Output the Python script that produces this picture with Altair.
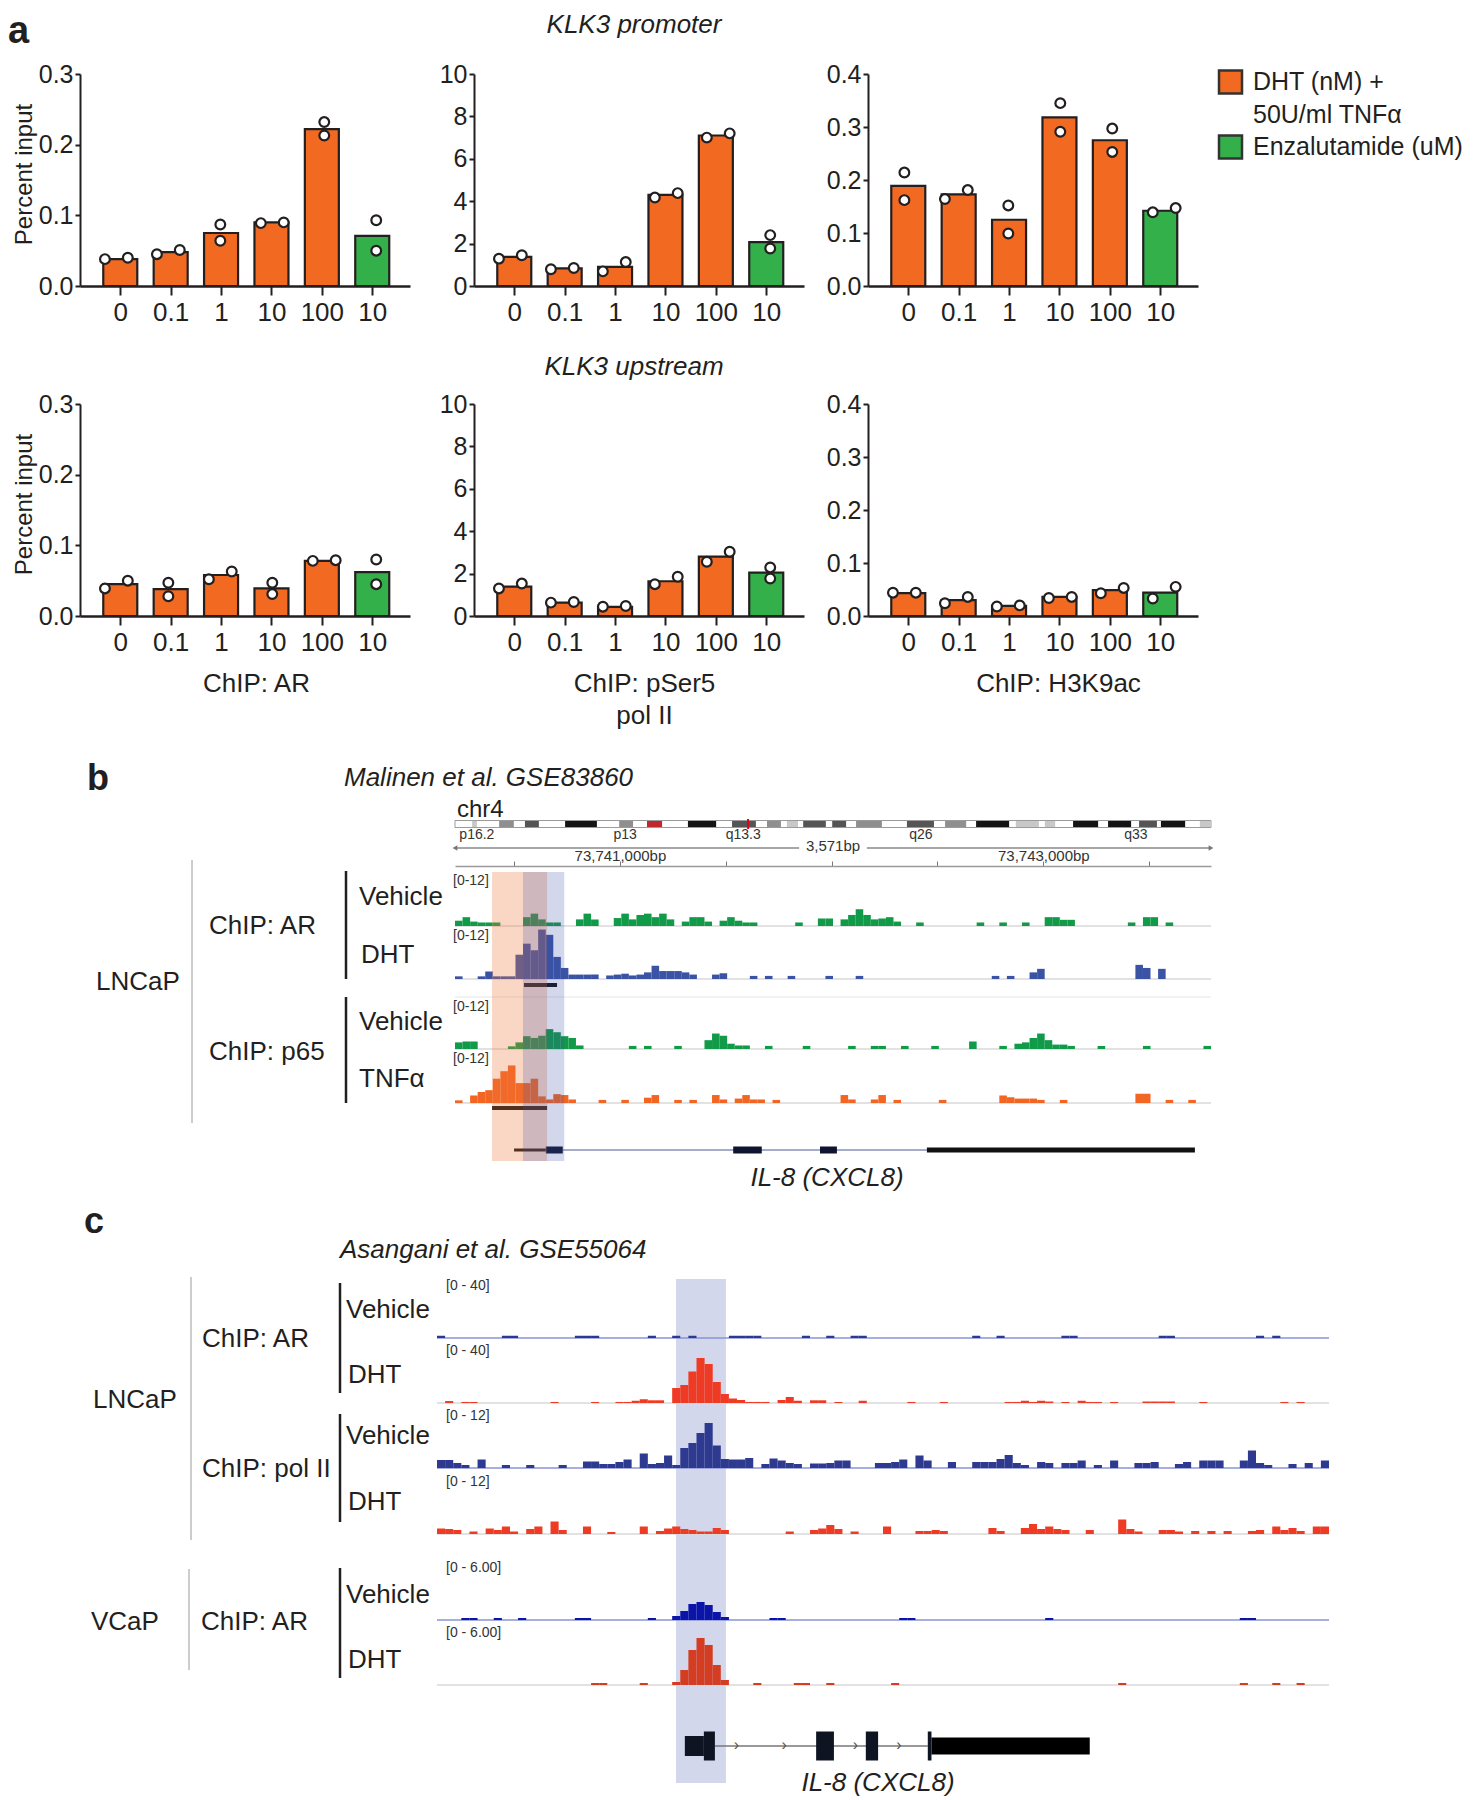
import json
import pandas as pd
import altair as alt

FONT = "Liberation Sans"
INK = "#231f20"
ORANGE = "#F26A21"
GREEN = "#33B04A"
FS = 26

# ---------------------------------------------------------------- panel a data
dose_labels = ["0", "0.1", "1", "10", "100", "10"]
treat_of_bar = ["DHT", "DHT", "DHT", "DHT", "DHT", "Enz"]
legend_lines = ["DHT (nM) +", "50U/ml TNFα", "Enzalutamide (uM)"]

# KLK3 promoter
ar_prom_bar = [0.038, 0.048, 0.075, 0.090, 0.222, 0.071]
ar_prom_rep1 = [0.038, 0.045, 0.087, 0.089, 0.232, 0.093]
ar_prom_rep2 = [0.040, 0.051, 0.064, 0.090, 0.213, 0.050]
ar_prom_spread = [1, 1, 0, 1, 0, 0]

pser5_prom_bar = [1.37, 0.83, 0.90, 4.30, 7.10, 2.07]
pser5_prom_rep1 = [1.29, 0.79, 0.69, 4.17, 7.00, 2.40]
pser5_prom_rep2 = [1.45, 0.85, 1.13, 4.38, 7.20, 1.77]
pser5_prom_spread = [1, 1, 1, 1, 1, 0]

h3_prom_bar = [0.189, 0.173, 0.125, 0.318, 0.275, 0.142]
h3_prom_rep1 = [0.214, 0.164, 0.152, 0.345, 0.297, 0.139]
h3_prom_rep2 = [0.162, 0.181, 0.099, 0.291, 0.253, 0.147]
h3_prom_spread = [0, 1, 0, 0, 0, 1]

# KLK3 upstream
ar_up_bar = [0.045, 0.038, 0.058, 0.039, 0.078, 0.062]
ar_up_rep1 = [0.039, 0.047, 0.052, 0.047, 0.078, 0.080]
ar_up_rep2 = [0.050, 0.028, 0.063, 0.031, 0.079, 0.045]
ar_up_spread = [1, 0, 1, 0, 1, 0]

pser5_up_bar = [1.39, 0.63, 0.43, 1.64, 2.80, 2.05]
pser5_up_rep1 = [1.30, 0.63, 0.44, 1.50, 2.56, 2.29]
pser5_up_rep2 = [1.53, 0.66, 0.47, 1.85, 3.03, 1.77]
pser5_up_spread = [1, 1, 1, 1, 1, 0]

h3_up_bar = [0.043, 0.030, 0.019, 0.036, 0.049, 0.044]
h3_up_rep1 = [0.044, 0.024, 0.018, 0.034, 0.043, 0.033]
h3_up_rep2 = [0.044, 0.036, 0.020, 0.036, 0.053, 0.055]
h3_up_spread = [1, 1, 1, 1, 1, 1]

# ---------------------------------------------------------------- panel b data (hg38 chr4)
b_region = [73740221, 73743792]
b_ruler_labeled = [73741000, 73743000]
b_ar_vehicle = [
    1.2, 2.0, 1.0, 0.8, 0.8, 0.8, 0, 0, 0, 2.0,
    2.8, 1.5, 0.8, 0.8, 0, 0, 1.5, 2.8, 1.5, 0,
    0, 1.8, 2.8, 1.5, 2.5, 2.8, 2.0, 2.8, 1.5, 0,
    1.0, 2.0, 2.0, 1.0, 0, 1.2, 2.0, 1.2, 0.8, 0.8,
    0, 0, 0, 0, 0, 0.8, 0, 0, 1.7, 1.7,
    0, 1.5, 2.5, 3.8, 2.5, 1.5, 1.7, 2.0, 1.0, 0,
    0, 0.8, 0, 0, 0, 0, 0, 0, 0, 0.8,
    0, 0, 0.8, 0, 0, 0.8, 0, 0, 2.0, 2.0,
    1.4, 1.4, 0, 0, 0, 0, 0, 0, 0, 0.8,
    0, 2.0, 2.0, 0, 0.8, 0, 0, 0, 0, 0]
b_ar_dht = [
    0.6, 0, 0, 0.6, 1.7, 0.6, 0.6, 0.6, 5.5, 8.0,
    6.5, 11.2, 10.0, 5.0, 2.5, 1.0, 1.0, 1.0, 1.0, 0,
    0.8, 1.0, 1.2, 0.8, 1.0, 1.5, 3.0, 1.8, 1.8, 1.8,
    1.5, 1.0, 0, 0, 1.0, 1.3, 0, 0, 0, 0.7,
    0, 0.7, 0, 0, 0.7, 0, 0, 0, 0, 0.7,
    0, 0, 0, 0.7, 0, 0, 0, 0, 0, 0,
    0, 0, 0, 0, 0, 0, 0, 0, 0, 0,
    0, 0.7, 0, 0.7, 0, 0, 1.5, 2.3, 0, 0,
    0, 0, 0, 0, 0, 0, 0, 0, 0, 0,
    3.2, 2.5, 0, 2.3, 0, 0, 0, 0, 0, 0]
b_p65_vehicle = [
    1.5, 1.7, 1.7, 0, 0, 0, 0, 0.6, 1.5, 2.9,
    2.5, 3.0, 4.5, 3.8, 2.9, 2.5, 0.8, 0, 0, 0,
    0, 0, 0, 0.7, 0, 0.7, 0, 0, 0, 0.7,
    0, 0, 0, 2.0, 3.5, 3.0, 1.2, 0.8, 0.8, 0,
    0, 0.7, 0, 0, 0, 0, 0.7, 0, 0, 0,
    0, 0, 0.7, 0, 0, 0.7, 0.7, 0, 0, 0.7,
    0, 0, 0, 0.7, 0, 0, 0, 0, 1.7, 0,
    0, 0, 0.7, 0, 1.2, 1.5, 2.5, 3.5, 2.0, 1.0,
    1.0, 0.7, 0, 0, 0, 0.7, 0, 0, 0, 0,
    0, 0.7, 0, 0, 0, 0, 0, 0, 0, 0.7]
b_p65_tnf = [
    0.6, 0, 1.7, 2.5, 2.9, 5.5, 7.2, 8.5, 4.5, 4.5,
    5.5, 1.5, 0.8, 2.0, 1.8, 0.8, 0, 0, 0, 0.7,
    0, 0, 0.7, 0, 0, 1.2, 1.8, 0, 0, 0.7,
    0, 0.7, 0, 0, 1.8, 0.8, 0, 1.0, 1.8, 0.8,
    0.8, 0, 0.7, 0, 0, 0, 0, 0, 0, 0,
    0, 1.8, 0.8, 0, 0, 0.8, 1.8, 0, 0.7, 0,
    0, 0, 0, 0, 0.7, 0, 0, 0, 0, 0,
    0, 0, 1.7, 1.3, 1.0, 1.0, 1.0, 0.7, 0, 0,
    0.7, 0, 0, 0, 0, 0, 0, 0, 0, 0,
    2.1, 2.1, 0, 0, 0.7, 0, 0, 0.7, 0, 0]
b_peak_ar = [73740547, 73740703]
b_peak_p65 = [73740396, 73740656]
b_hl_p65 = [73740396, 73740656]
b_hl_ar = [73740542, 73740737]
b_gene_utr5 = [[73740500, 73740650]]
b_gene_cds = [[73740650, 73740730], [73741535, 73741670], [73741945, 73742025]]
b_gene_utr3 = [[73742450, 73743716]]
b_gene_intron = [73740730, 73742450]

# chr4 ideogram (Mb)
chr4_len = 190.2
band_start = [4.3, 11.1, 17.6, 27.7, 41.3, 48.3, 58.6, 69.7, 78.5, 83.5, 87.6, 94.9, 100.9,
              113.7, 123.3, 131.1, 141.1, 148.4, 155.5, 164.3, 172.1, 177.6, 187.4]
band_end = [5.5, 14.8, 21.1, 35.7, 44.8, 52.1, 65.7, 75.7, 82.0, 86.3, 93.3, 98.4, 107.4,
            120.5, 128.6, 139.4, 146.9, 151.0, 161.8, 170.1, 176.6, 183.7, 190.2]
band_stain = ["gpos25", "gpos50", "gpos75", "gpos100", "gpos50", "acen", "gpos100", "gpos75",
              "gpos50", "gpos25", "gpos75", "gpos75", "gpos50", "gpos75", "gpos50", "gpos100",
              "gpos25", "gpos25", "gpos100", "gpos100", "gpos75", "gpos100", "gpos25"]
cyto_names = ["p16.2", "p13", "q13.3", "q26", "q33"]
cyto_pos = [5.5, 42.8, 72.5, 117.2, 171.3]

# ---------------------------------------------------------------- panel c data (hg19 chr4)
c_region = [74604200, 74611470]
c_ar_veh_lncap = [
    1.5, 0, 0, 0, 0, 0, 0, 0, 1.5, 1.5,
    0, 0, 0, 0, 0, 0, 0, 1.5, 1.5, 1.5,
    0, 0, 0, 0, 0, 0, 1.5, 0, 0, 1.5,
    0, 1.5, 0, 0, 0, 0, 1.5, 1.5, 1.5, 1.5,
    0, 0, 0, 0, 0, 1.5, 0, 0, 1.5, 0,
    0, 1.5, 1.5, 0, 0, 0, 0, 0, 0, 0,
    0, 0, 0, 0, 0, 0, 1.5, 0, 0, 1.5,
    0, 0, 0, 0, 0, 0, 0, 1.5, 1.5, 0,
    0, 0, 0, 0, 0, 0, 0, 0, 0, 1.5,
    1.5, 0, 0, 0, 0, 0, 0, 0, 0, 0,
    0, 1.5, 0, 1.5, 0, 0, 0, 0, 0, 0]
c_ar_dht_lncap = [
    0, 1.3, 0, 0.7, 0.7, 0, 0, 0, 0, 0,
    0, 0, 0, 0, 0.7, 0, 0, 0, 0, 0.7,
    0, 0, 0.7, 0.7, 1.5, 2.5, 1.8, 1.8, 0, 10,
    12, 21, 30, 26, 14, 6, 3, 2, 0.7, 0.7,
    0.7, 0, 2, 4, 1.5, 0, 1.8, 1.8, 0, 0.7,
    0, 0, 1.5, 0, 0, 0, 0, 0, 0.7, 0,
    0, 0, 0.7, 0, 0, 0, 0, 0, 0, 0,
    0.7, 0.7, 1.5, 0.7, 1.5, 1.0, 0, 0.7, 0, 1.5,
    0.7, 0.7, 0, 0.7, 0, 0, 0, 1.0, 1.0, 1.0,
    1.0, 0, 0, 0, 0.7, 0, 0, 0, 0, 0,
    0, 0, 0, 0, 0.7, 0, 0.7, 0, 0, 0]
c_pol2_veh_lncap = [
    1.6, 1.6, 1.0, 0.6, 0, 1.7, 0, 0, 0.6, 0,
    0, 0.6, 0, 0, 0, 0.6, 0, 0, 1.3, 1.3,
    0.8, 0.8, 1.2, 1.7, 0, 2.9, 0.8, 1.0, 2.5, 0.6,
    4.0, 5.0, 7.0, 9.0, 4.5, 1.8, 1.7, 1.7, 2.0, 0,
    0.8, 1.9, 1.5, 1.0, 0.8, 0, 0.9, 0.9, 1.0, 1.5,
    1.5, 0, 0, 0, 1.0, 1.0, 1.2, 1.7, 0, 2.5,
    1.5, 0, 0, 1.2, 0, 0, 1.2, 1.2, 1.2, 1.8,
    2.6, 1.0, 0.6, 0, 1.2, 1.0, 0, 1.0, 1.0, 1.5,
    0, 0.6, 0, 1.5, 0, 0, 1.0, 1.0, 1.2, 0,
    0, 0.8, 1.2, 0, 1.5, 1.5, 1.5, 0, 0, 1.5,
    3.5, 1.0, 0.6, 0, 0, 0.8, 0, 1.0, 0, 1.5]
c_pol2_dht_lncap = [
    1.1, 1.0, 0.8, 0, 0.5, 0, 1.1, 0.8, 1.5, 0.5,
    0, 1.0, 1.5, 0, 2.5, 0.8, 0, 0, 1.5, 0,
    0, 0.4, 0, 0, 0, 1.5, 0, 0.6, 1.1, 1.5,
    1.0, 0.8, 0.5, 0.5, 1.2, 0.8, 0, 0, 0, 0,
    0, 0, 0, 0.5, 0, 0, 0.8, 1.1, 1.8, 1.0,
    0, 0.5, 0, 0, 0, 1.5, 0, 0, 0, 0.6,
    0.6, 0.8, 0.6, 0, 0, 0, 0, 0, 1.2, 0.6,
    0, 0, 1.2, 2.0, 1.0, 1.5, 1.0, 0.8, 0, 0,
    0.8, 0, 0, 0, 2.9, 1.0, 0.5, 0, 0, 0.8,
    0.8, 0.5, 0, 0.6, 0, 0.6, 0, 0.6, 0, 0,
    0.6, 0.8, 0, 1.5, 0.8, 1.2, 0.6, 0, 1.5, 1.5]
c_ar_veh_vcap = [
    0, 0, 0, 0.2, 0.2, 0, 0, 0.2, 0, 0,
    0.2, 0, 0, 0, 0, 0, 0, 0.2, 0.2, 0,
    0, 0, 0, 0, 0, 0, 0.2, 0, 0, 0.4,
    0.9, 1.6, 1.8, 1.5, 0.8, 0.3, 0, 0, 0, 0,
    0, 0.2, 0.2, 0, 0, 0, 0, 0, 0, 0,
    0, 0, 0, 0, 0, 0, 0, 0.2, 0.2, 0,
    0, 0, 0, 0, 0, 0, 0, 0, 0, 0,
    0, 0, 0, 0, 0, 0.2, 0, 0, 0, 0,
    0, 0, 0, 0, 0, 0, 0, 0, 0, 0,
    0, 0, 0, 0, 0, 0, 0, 0, 0, 0.2,
    0.2, 0, 0, 0, 0, 0, 0, 0, 0, 0]
c_ar_dht_vcap = [
    0, 0, 0, 0, 0, 0, 0, 0, 0, 0,
    0, 0, 0, 0, 0, 0, 0, 0, 0, 0.2,
    0.2, 0, 0, 0, 0, 0.2, 0, 0, 0, 0.3,
    1.5, 3.5, 4.7, 4.0, 2.0, 0.5, 0, 0, 0, 0.2,
    0, 0, 0, 0, 0.2, 0.2, 0, 0, 0.2, 0,
    0, 0, 0, 0, 0, 0, 0.2, 0, 0, 0,
    0, 0, 0, 0, 0, 0, 0, 0, 0, 0,
    0, 0, 0, 0, 0, 0, 0, 0, 0, 0,
    0, 0, 0, 0, 0.2, 0, 0, 0, 0, 0,
    0, 0, 0, 0, 0, 0, 0, 0, 0, 0.2,
    0, 0, 0, 0.2, 0, 0, 0.2, 0, 0, 0]
c_hl = [74606148, 74606555]
c_gene_cds = [[74606375, 74606465], [74607290, 74607435], [74607695, 74607795], [74608200, 74608230]]
c_gene_utr5 = [[74606220, 74606375]]
c_gene_utr3 = [[74608230, 74609520]]
c_gene_intron = [74606465, 74608200]
c_gene_strand_marks = [74606640, 74607030, 74607610, 74607965]

# ---------------------------------------------------------------- helpers
ONE = alt.Data(values=[{}])


def text_mark(txt, x, y, size=FS, align="left", baseline="middle", style="normal",
              weight="normal", color=INK):
    return alt.Chart(ONE).mark_text(
        text=txt, fontSize=size, align=align, baseline=baseline, font=FONT,
        fontStyle=style, fontWeight=weight, color=color
    ).encode(x=alt.value(x), y=alt.value(y))


def vline(x, y1, y2, color=INK, w=2.5):
    return alt.Chart(ONE).mark_rule(color=color, strokeWidth=w).encode(
        x=alt.value(x), y=alt.value(y1), y2=alt.value(y2))


def hrule(x1, x2, y, xs, ax, color, w):
    return alt.Chart(ONE).mark_rule(color=color, strokeWidth=w).encode(
        x=alt.XDatum(x1, scale=xs, axis=ax), x2=alt.X2Datum(x2), y=alt.value(y))


def bins_df(vals, start, width):
    rows = [{"s": start + i * width, "e": start + (i + 1) * width, "v": v}
            for i, v in enumerate(vals) if v > 0]
    return pd.DataFrame(rows)


def track(vals, region, xs, ax, color, base, h, ymax):
    width = (region[1] - region[0]) / len(vals)
    ys = alt.Scale(domain=[0, ymax], range=[base, base - h], nice=False, zero=True)
    return alt.Chart(bins_df(vals, region[0], width)).mark_rect(color=color).encode(
        x=alt.X("s:Q", scale=xs, axis=ax), x2="e:Q",
        y=alt.Y("v:Q", scale=ys, axis=None), y2=alt.datum(0))


def segs(seglist, xs, ax, yc, h, color):
    df = pd.DataFrame(seglist, columns=["s", "e"])
    return alt.Chart(df).mark_rect(color=color).encode(
        x=alt.X("s:Q", scale=xs, axis=ax), x2="e:Q",
        y=alt.value(yc - h / 2), y2=alt.value(yc + h / 2))


# ---------------------------------------------------------------- panel a charts
PW, PH = 330, 212
PX0 = [0, 394, 788]
XDOM = [-0.7, 5.65]
SPREAD = 0.22
color_scale = alt.Scale(domain=["DHT", "Enz"], range=[ORANGE, GREEN])


def bar_layers(x0, bars, rep1, rep2, spread, ymax, step, fmt, ytitle=False, xtitle=None,
               xtitle_x=165):
    bar_df = pd.DataFrame({"pos": list(range(len(bars))), "value": bars, "treat": treat_of_bar})
    pts = []
    for i, (a, b) in enumerate(zip(rep1, rep2)):
        off = SPREAD if spread[i] else 0.0
        pts.append({"pos": i - off, "value": a})
        pts.append({"pos": i + off, "value": b})
    pt_df = pd.DataFrame(pts)
    n = int(round(ymax / step))
    yvals = [round(k * step, 4) for k in range(n + 1)]
    xs = alt.Scale(domain=XDOM, range=[x0, x0 + PW], nice=False, zero=False)
    ys = alt.Scale(domain=[0, ymax], range=[PH, 0], nice=False)
    common = dict(labelFont=FONT, labelFontSize=FS, labelColor=INK, domainColor=INK,
                  tickColor=INK, grid=False, titleFont=FONT, titleFontSize=FS,
                  titleFontWeight="normal", titleColor=INK, labelFlush=False)
    ykw = dict(common, orient="left", offset=-x0, values=yvals, format=fmt, tickSize=5,
               tickWidth=2, domainWidth=2, labelPadding=2, labelFontSize=25)
    if ytitle:
        ykw.update(title="Percent input", titleFontSize=24, titleX=-44, titleY=100)
    else:
        ykw["title"] = None
    xkw = dict(common, orient="bottom", values=list(range(6)),
               labelExpr=json.dumps(dose_labels) + "[datum.value]",
               tickSize=9, tickWidth=2, domainWidth=2.5, labelPadding=4, labelOverlap=False)
    if xtitle:
        xkw.update(title=xtitle, titleX=x0 + xtitle_x, titleY=54, titleBaseline="top",
                   titleLineHeight=32)
    else:
        xkw["title"] = None
    bars_ch = alt.Chart(bar_df).mark_bar(size=34, stroke=INK, strokeWidth=2.2,
                                         orient="vertical").encode(
        x=alt.X("pos:Q", scale=xs, axis=alt.Axis(**xkw)),
        y=alt.Y("value:Q", scale=ys, axis=alt.Axis(**ykw)),
        color=alt.Color("treat:N", scale=color_scale, legend=None))
    pts_ch = alt.Chart(pt_df).mark_point(shape="circle", filled=True, fill="white",
                                         stroke=INK, strokeWidth=2.2, size=95,
                                         opacity=1).encode(
        x=alt.X("pos:Q", scale=xs, axis=None),
        y=alt.Y("value:Q", scale=ys, axis=None))
    return [bars_ch, pts_ch]


rowA1_layers = (
    bar_layers(PX0[0], ar_prom_bar, ar_prom_rep1, ar_prom_rep2, ar_prom_spread, 0.3, 0.1,
               ".1f", ytitle=True)
    + bar_layers(PX0[1], pser5_prom_bar, pser5_prom_rep1, pser5_prom_rep2, pser5_prom_spread,
                 10, 2, "d")
    + bar_layers(PX0[2], h3_prom_bar, h3_prom_rep1, h3_prom_rep2, h3_prom_spread, 0.4, 0.1,
                 ".1f")
)
LEG_X = 1138
leg_y = alt.Scale(domain=[0, 2], range=[8, 73])
rowA1_layers += [
    alt.Chart(pd.DataFrame({"row": [0, 2], "treat": ["DHT", "Enz"]})).mark_square(
        size=529, stroke="#333333", strokeWidth=2.5, opacity=1).encode(
        x=alt.value(LEG_X + 12.5), y=alt.Y("row:Q", scale=leg_y, axis=None),
        color=alt.Color("treat:N", scale=color_scale, legend=None)),
    alt.Chart(pd.DataFrame({"row": [0, 1, 2], "label": legend_lines})).mark_text(
        align="left", baseline="middle", fontSize=25, font=FONT, color=INK).encode(
        x=alt.value(LEG_X + 35), y=alt.Y("row:Q", scale=leg_y, axis=None), text="label:N"),
    # invisible anchor that fixes the top edge of the drawing
    alt.Chart(ONE).mark_rule(opacity=0).encode(
        x=alt.value(600), y=alt.value(-66), y2=alt.value(-62)),
    text_mark("a", -72, -31, size=38, weight="bold", baseline="alphabetic"),
    text_mark("KLK3 promoter", PX0[1] + 160, -49, align="center", style="italic"),
]
rowA1 = alt.layer(*rowA1_layers).resolve_scale(x="independent", y="independent").properties(
    width=PX0[2] + PW, height=PH)

rowA2_layers = (
    bar_layers(PX0[0], ar_up_bar, ar_up_rep1, ar_up_rep2, ar_up_spread, 0.3, 0.1, ".1f",
               ytitle=True, xtitle="ChIP: AR", xtitle_x=176)
    + bar_layers(PX0[1], pser5_up_bar, pser5_up_rep1, pser5_up_rep2, pser5_up_spread, 10, 2,
                 "d", xtitle=["ChIP: pSer5", "pol II"], xtitle_x=170)
    + bar_layers(PX0[2], h3_up_bar, h3_up_rep1, h3_up_rep2, h3_up_spread, 0.4, 0.1, ".1f",
                 xtitle="ChIP: H3K9ac", xtitle_x=190)
)
rowA2_layers += [text_mark("KLK3 upstream", PX0[1] + 160, -37, align="center", style="italic")]
rowA2 = alt.layer(*rowA2_layers).resolve_scale(x="independent", y="independent").properties(
    width=PX0[2] + PW, height=PH)

# ---------------------------------------------------------------- panel b chart
B_W, B_H, B_X0 = 1131, 348, 375
xsB = alt.Scale(domain=b_region, range=[B_X0, B_W], nice=False, zero=False)
xsI = alt.Scale(domain=[0, chr4_len], range=[B_X0, B_W], nice=False, zero=False)
b_mid = (b_region[0] + b_region[1]) / 2
gap = 160
ruler_ticks = list(range((b_region[0] // 500 + 1) * 500, b_region[1], 500))
AXB = alt.Axis(
    orient="top", offset=-132, values=ruler_ticks,
    labelExpr="indexof(" + json.dumps(b_ruler_labeled) + ", datum.value) >= 0 ? "
              "format(datum.value, ',') + 'bp' : ''",
    tickSize=5, tickColor="#777777", domainColor="#9a9a9a", domainWidth=1.5,
    labelFont=FONT, labelFontSize=15, labelColor="#333333", labelPadding=-2,
    labelOverlap=False, labelFlush=False, grid=False, title=None)

stain_color = {"gpos25": "#c8c8c8", "gpos50": "#8f8f8f", "gpos75": "#555555",
               "gpos100": "#141414", "acen": "#c1272d"}
bands = pd.DataFrame({"s": band_start, "e": band_end, "stain": band_stain})
ideo_layers = [alt.Chart(pd.DataFrame({"s": [0], "e": [chr4_len]})).mark_rect(
    fill="white", stroke="#9b9b9b", strokeWidth=1).encode(
    x=alt.X("s:Q", scale=xsI, axis=None), x2="e:Q", y=alt.value(86.5), y2=alt.value(93.5))]
for stain, col in stain_color.items():
    sub = bands[bands.stain == stain]
    ideo_layers.append(alt.Chart(sub).mark_rect(color=col).encode(
        x=alt.X("s:Q", scale=xsI, axis=None), x2="e:Q", y=alt.value(87), y2=alt.value(93)))
region_mb = b_mid / 1e6
ideo_layers.append(alt.Chart(pd.DataFrame({"mb": [region_mb]})).mark_rule(
    color="#e3001b", strokeWidth=2).encode(
    x=alt.X("mb:Q", scale=xsI, axis=None), y=alt.value(85), y2=alt.value(95)))
ideo_layers.append(alt.Chart(pd.DataFrame({"mb": cyto_pos, "name": cyto_names})).mark_text(
    fontSize=14, font=FONT, color="#333333", align="center", baseline="middle").encode(
    x=alt.X("mb:Q", scale=xsI, axis=None), y=alt.value(101), text="name:N"))
ideo = alt.layer(*ideo_layers)

b_tracks = [(b_ar_vehicle, "#119a48", 192), (b_ar_dht, "#3a53a4", 245),
            (b_p65_vehicle, "#119a48", 315), (b_p65_tnf, "#f26522", 369)]
mainB = []
for _, _, base in b_tracks:
    mainB.append(hrule(b_region[0], b_region[1], base, xsB, AXB, "#d9d9d9", 1.5))
mainB.append(hrule(b_region[0], b_region[1], 263, xsB, AXB, "#e6e6e6", 1))
for vals, col, base in b_tracks:
    mainB.append(track(vals, b_region, xsB, AXB, col, base, 53, 12))
mainB.append(hrule(b_peak_ar[0], b_peak_ar[1], 251, xsB, AXB, "#111111", 4))
mainB.append(hrule(b_peak_p65[0], b_peak_p65[1], 374, xsB, AXB, "#111111", 4))
mainB.append(hrule(b_gene_intron[0], b_gene_intron[1], 416, xsB, AXB, "#4d5a94", 1))
mainB.append(segs(b_gene_utr5, xsB, AXB, 416, 3, "#111111"))
mainB.append(segs(b_gene_cds, xsB, AXB, 416, 7, "#0f1530"))
mainB.append(segs(b_gene_utr3, xsB, AXB, 416, 5, "#111111"))
mainB.append(alt.Chart(pd.DataFrame({"s": [b_hl_p65[0]], "e": [b_hl_p65[1]]})).mark_rect(
    color="#f0783c", opacity=0.3).encode(
    x=alt.X("s:Q", scale=xsB, axis=AXB), x2="e:Q", y=alt.value(138), y2=alt.value(427)))
mainB.append(alt.Chart(pd.DataFrame({"s": [b_hl_ar[0]], "e": [b_hl_ar[1]]})).mark_rect(
    color="#3c50aa", opacity=0.23).encode(
    x=alt.X("s:Q", scale=xsB, axis=AXB), x2="e:Q", y=alt.value(138), y2=alt.value(427)))
ruler_df = pd.DataFrame({"s": [b_region[0], b_mid + gap], "e": [b_mid - gap, b_region[1]]})
mainB.append(alt.Chart(ruler_df).mark_rule(color="#8a8a8a", strokeWidth=1.5).encode(
    x=alt.X("s:Q", scale=xsB, axis=AXB), x2="e:Q", y=alt.value(114)))
mainB.append(alt.Chart(pd.DataFrame({"p": [b_region[0]]})).mark_point(
    shape="triangle-left", size=30, filled=True, color="#777777", opacity=1).encode(
    x=alt.X("p:Q", scale=xsB, axis=AXB), y=alt.value(114)))
mainB.append(alt.Chart(pd.DataFrame({"p": [b_region[1]]})).mark_point(
    shape="triangle-right", size=30, filled=True, color="#777777", opacity=1).encode(
    x=alt.X("p:Q", scale=xsB, axis=AXB), y=alt.value(114)))
mainB.append(alt.Chart(pd.DataFrame({"p": [b_mid], "t": [f"{b_region[1] - b_region[0]:,}bp"]})).mark_text(
    fontSize=15, font=FONT, color="#333333", align="center", baseline="middle").encode(
    x=alt.X("p:Q", scale=xsB, axis=AXB), y=alt.value(112), text="t:N"))
for base in [147, 202, 273, 325]:
    mainB.append(text_mark("[0-12]", 373, base, size=14, color="#333333"))
mainB += [
    text_mark("b", 7, 56, size=36, weight="bold", baseline="alphabetic"),
    text_mark("Malinen et al. GSE83860", 264, 44, style="italic"),
    text_mark("chr4", 377, 83, size=24, baseline="alphabetic"),
    text_mark("IL-8 (CXCL8)", 747, 444, align="center", style="italic"),
    text_mark("LNCaP", 16, 248),
    vline(112, 126, 389, color="#9a9a9a", w=1),
    text_mark("ChIP: AR", 129, 192),
    text_mark("ChIP: p65", 129, 318),
    vline(266, 137, 245),
    vline(266, 263, 369),
    text_mark("Vehicle", 279, 163),
    text_mark("DHT", 281, 221),
    text_mark("Vehicle", 279, 288),
    text_mark("TNFα", 279, 345),
]
partB = alt.layer(ideo, alt.layer(*mainB).resolve_scale(y="independent")).resolve_scale(
    x="independent", y="independent").properties(width=B_W, height=B_H)

# ---------------------------------------------------------------- panel c chart
C_W, C_H, C_X0 = 1249, 590, 357
xsC = alt.Scale(domain=c_region, range=[C_X0, C_W], nice=False, zero=False)
c_tracks = [
    (c_ar_veh_lncap, "#2b3990", "#8b93d6", 138, 40, "[0 - 40]"),
    (c_ar_dht_lncap, "#ef3b24", "#d9d9d9", 203, 40, "[0 - 40]"),
    (c_pol2_veh_lncap, "#2e3a8f", "#8b93d6", 268, 12, "[0 - 12]"),
    (c_pol2_dht_lncap, "#ef3b24", "#d9d9d9", 334, 12, "[0 - 12]"),
    (c_ar_veh_vcap, "#0a14a8", "#8b93d6", 420, 6, "[0 - 6.00]"),
    (c_ar_dht_vcap, "#d43d22", "#d9d9d9", 485, 6, "[0 - 6.00]"),
]
mainC = [alt.Chart(pd.DataFrame({"s": [c_hl[0]], "e": [c_hl[1]]})).mark_rect(
    color="#3c50aa", opacity=0.23).encode(
    x=alt.X("s:Q", scale=xsC, axis=None), x2="e:Q", y=alt.value(79), y2=alt.value(583))]
for vals, col, lcol, base, ymax, lab in c_tracks:
    mainC.append(hrule(c_region[0], c_region[1], base, xsC, None, lcol, 1.5))
for vals, col, lcol, base, ymax, lab in c_tracks:
    mainC.append(track(vals, c_region, xsC, None, col, base, 60, ymax))
    mainC.append(text_mark(lab, 366, base - 52, size=14, color="#333333"))
mainC.append(hrule(c_gene_intron[0], c_gene_intron[1], 546, xsC, None, "#777777", 1.5))
mainC.append(segs(c_gene_utr5, xsC, None, 546, 20, "#0f1423"))
mainC.append(segs(c_gene_cds, xsC, None, 546, 29, "#0f1423"))
mainC.append(segs(c_gene_utr3, xsC, None, 546, 17, "#000000"))
mainC.append(alt.Chart(pd.DataFrame({"p": c_gene_strand_marks})).mark_text(
    text="›", fontSize=16, font=FONT, color="#555555", align="center", baseline="middle").encode(
    x=alt.X("p:Q", scale=xsC, axis=None), y=alt.value(545)))
mainC += [
    text_mark("c", 4, 33, size=36, weight="bold", baseline="alphabetic"),
    text_mark("Asangani et al. GSE55064", 260, 50, style="italic"),
    text_mark("IL-8 (CXCL8)", 798, 583, align="center", style="italic"),
    text_mark("LNCaP", 13, 200),
    vline(111, 77, 340, color="#9a9a9a", w=1),
    text_mark("ChIP: AR", 122, 139),
    text_mark("ChIP: pol II", 122, 269),
    vline(260, 83, 193),
    vline(260, 214, 322),
    vline(260, 368, 478),
    text_mark("Vehicle", 266, 110),
    text_mark("DHT", 268, 175),
    text_mark("Vehicle", 266, 236),
    text_mark("DHT", 268, 302),
    text_mark("VCaP", 11, 422),
    vline(109, 369, 470, color="#9a9a9a", w=1),
    text_mark("ChIP: AR", 121, 422),
    text_mark("Vehicle", 266, 395),
    text_mark("DHT", 268, 460),
]
partC = alt.layer(*mainC).resolve_scale(y="independent").properties(width=C_W, height=C_H)

# ---------------------------------------------------------------- assemble
chart = alt.vconcat(rowA1, rowA2, partB, partC, spacing=118, bounds="flush").properties(
    padding=0).configure(font=FONT).configure_view(strokeWidth=0)

chart.save("out.html", embed_options={"renderer": "svg", "actions": False})
